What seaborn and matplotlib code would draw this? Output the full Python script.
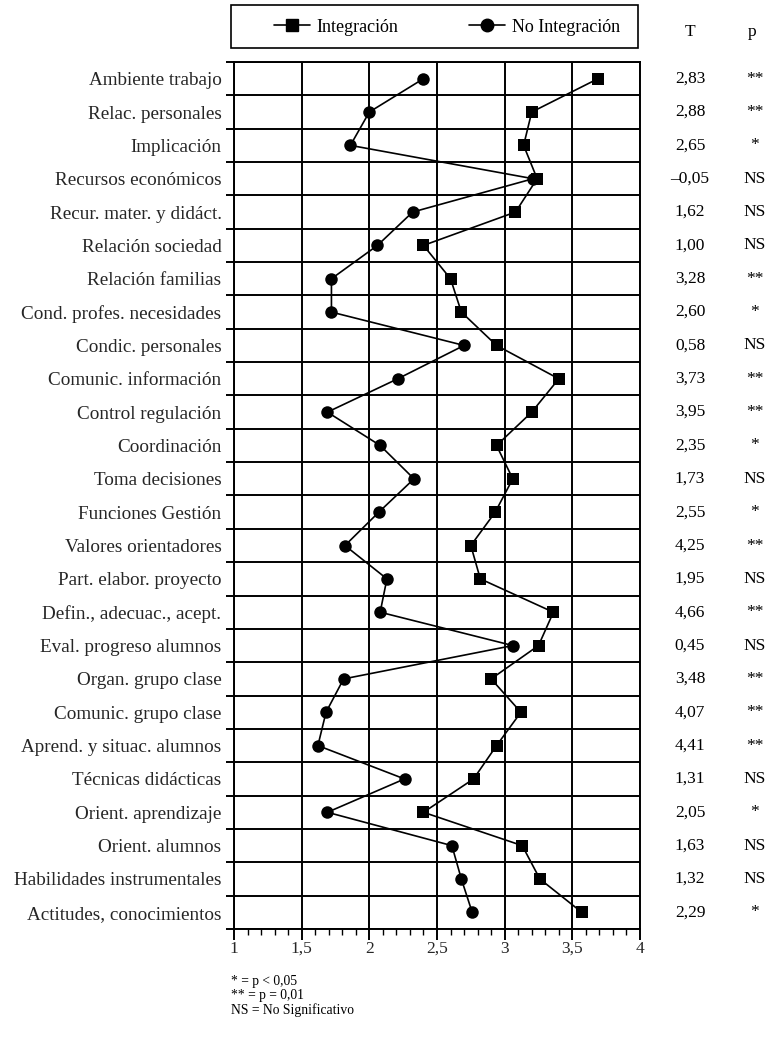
import matplotlib
matplotlib.use("Agg")
import matplotlib.pyplot as plt
import matplotlib.transforms as mtransforms
from matplotlib.lines import Line2D
from matplotlib.patches import Rectangle
from matplotlib.ticker import FixedLocator, MultipleLocator, FuncFormatter
import numpy as np
import pandas as pd
import seaborn as sns

# Scales of the school-climate questionnaire
categories = [
    "Ambiente trabajo", "Relac. personales", "Implicación", "Recursos económicos",
    "Recur. mater. y didáct.", "Relación sociedad", "Relación familias",
    "Cond. profes. necesidades", "Condic. personales", "Comunic. información",
    "Control regulación", "Coordinación", "Toma decisiones", "Funciones Gestión",
    "Valores orientadores", "Part. elabor. proyecto", "Defin., adecuac., acept.",
    "Eval. progreso alumnos", "Organ. grupo clase", "Comunic. grupo clase",
    "Aprend. y situac. alumnos", "Técnicas didácticas", "Orient. aprendizaje",
    "Orient. alumnos", "Habilidades instrumentales", "Actitudes, conocimientos",
]

integracion = [3.69, 3.20, 3.14, 3.24, 3.08, 2.40, 2.60, 2.68, 2.94, 3.40,
               3.20, 2.94, 3.06, 2.93, 2.75, 2.82, 3.36, 3.25, 2.90, 3.12,
               2.94, 2.77, 2.40, 3.13, 3.26, 3.57]

no_integracion = [2.40, 2.00, 1.86, 3.21, 2.32, 2.06, 1.72, 1.72, 2.70, 2.21,
                  1.69, 2.08, 2.33, 2.07, 1.82, 2.13, 2.08, 3.06, 1.81, 1.68,
                  1.62, 2.26, 1.69, 2.61, 2.68, 2.76]

t_values = ["2,83", "2,88", "2,65", "–0,05", "1,62", "1,00", "3,28", "2,60", "0,58",
            "3,73", "3,95", "2,35", "1,73", "2,55", "4,25", "1,95", "4,66", "0,45",
            "3,48", "4,07", "4,41", "1,31", "2,05", "1,63", "1,32", "2,29"]

p_values = ["**", "**", "*", "NS", "NS", "NS", "**", "*", "NS", "**", "**", "*",
            "NS", "*", "**", "NS", "**", "NS", "**", "**", "**", "NS", "*", "NS",
            "NS", "*"]

series_names = ["Integración", "No Integración"]
x_ticks = [1, 1.5, 2, 2.5, 3, 3.5, 4]
notes = ["* = p < 0,05", "** = p = 0,01", "NS = No Significativo"]

n = len(categories)
df = pd.DataFrame({
    "fila": list(range(n)) * 2,
    "media": integracion + no_integracion,
    "grupo": [series_names[0]] * n + [series_names[1]] * n,
})

sns.set_theme(style="white")
plt.rcParams["font.family"] = ["Liberation Serif", "DejaVu Serif"]
plt.rcParams["text.color"] = "black"

W, H = 768, 1037
fig = plt.figure(figsize=(W / 100, H / 100), dpi=100)
left, right, top, bottom = 234, 640, 62, 929
ax = fig.add_axes([left / W, 1 - bottom / H, (right - left) / W, (bottom - top) / H])

sns.lineplot(
    data=df, x="media", y="fila", hue="grupo", style="grupo",
    orient="y", sort=True, estimator=None,
    palette={series_names[0]: "black", series_names[1]: "black"},
    markers={series_names[0]: "s", series_names[1]: "o"},
    dashes=False, linewidth=1.2, markersize=9, markeredgewidth=0,
    ax=ax, legend=False,
)

ax.set_xlim(1, 4)
ax.set_ylim(n - 0.5, -0.5)
ax.set_xlabel("")
ax.set_ylabel("")

# Labels at row centres, grid lines at row boundaries
ax.yaxis.set_major_locator(FixedLocator(range(n)))
ax.set_yticklabels(categories, fontsize=13.8)
ax.yaxis.set_minor_locator(FixedLocator(np.arange(-0.5, n, 1.0)))
ax.tick_params(axis="y", which="major", length=0, pad=9)
ax.tick_params(axis="y", which="minor", length=6, width=1.4, color="black", direction="out", left=True)

ax.xaxis.set_major_locator(FixedLocator(x_ticks))
ax.xaxis.set_minor_locator(MultipleLocator(0.1))
ax.xaxis.set_major_formatter(FuncFormatter(lambda v, p: f"{v:g}".replace(".", ",")))
ax.tick_params(axis="x", which="major", length=8, width=1.4, color="black", direction="out",
               bottom=True, labelsize=12.5, pad=0.5)
ax.tick_params(axis="x", which="minor", length=4, width=1.0, color="black", direction="out", bottom=True)

ax.grid(False)
ax.xaxis.grid(True, which="major", color="black", linewidth=1.4)
ax.yaxis.grid(True, which="minor", color="black", linewidth=1.4)
for s in ax.spines.values():
    s.set_visible(True)
    s.set_color("black")
    s.set_linewidth(1.4)

# Legend box above the plot
fig.patches.append(Rectangle((231 / W, 1 - 48 / H), (638 - 231) / W, 43 / H,
                             transform=fig.transFigure, fill=False,
                             edgecolor="black", linewidth=1.2))
handles = [
    Line2D([], [], color="black", marker="s", markersize=8, linewidth=1.2),
    Line2D([], [], color="black", marker="o", markersize=9, linewidth=1.2),
]
fig.legend(handles, series_names, loc="center", ncol=2,
           bbox_to_anchor=(447 / W, 1 - 27 / H), frameon=False,
           fontsize=13, handlelength=2.0, handletextpad=0.35,
           columnspacing=3.9, borderpad=0)

# T and p columns
trans = mtransforms.blended_transform_factory(fig.transFigure, ax.transData)
for i in range(n):
    ax.text(690 / W, i, t_values[i], transform=trans, ha="center", va="center", fontsize=12.5)
    ax.text(755 / W, i, p_values[i], transform=trans, ha="center", va="center", fontsize=12.5)
fig.text(690 / W, 1 - 32 / H, "T", ha="center", va="center", fontsize=12.5)
fig.text(752 / W, 1 - 32 / H, "p", ha="center", va="center", fontsize=12.5)

# Footnotes
for k, line in enumerate(notes):
    fig.text(231 / W, 1 - (985 + 14.5 * k) / H, line, ha="left", va="baseline", fontsize=9.8)

fig.savefig("out.png", dpi=100, facecolor="white")
